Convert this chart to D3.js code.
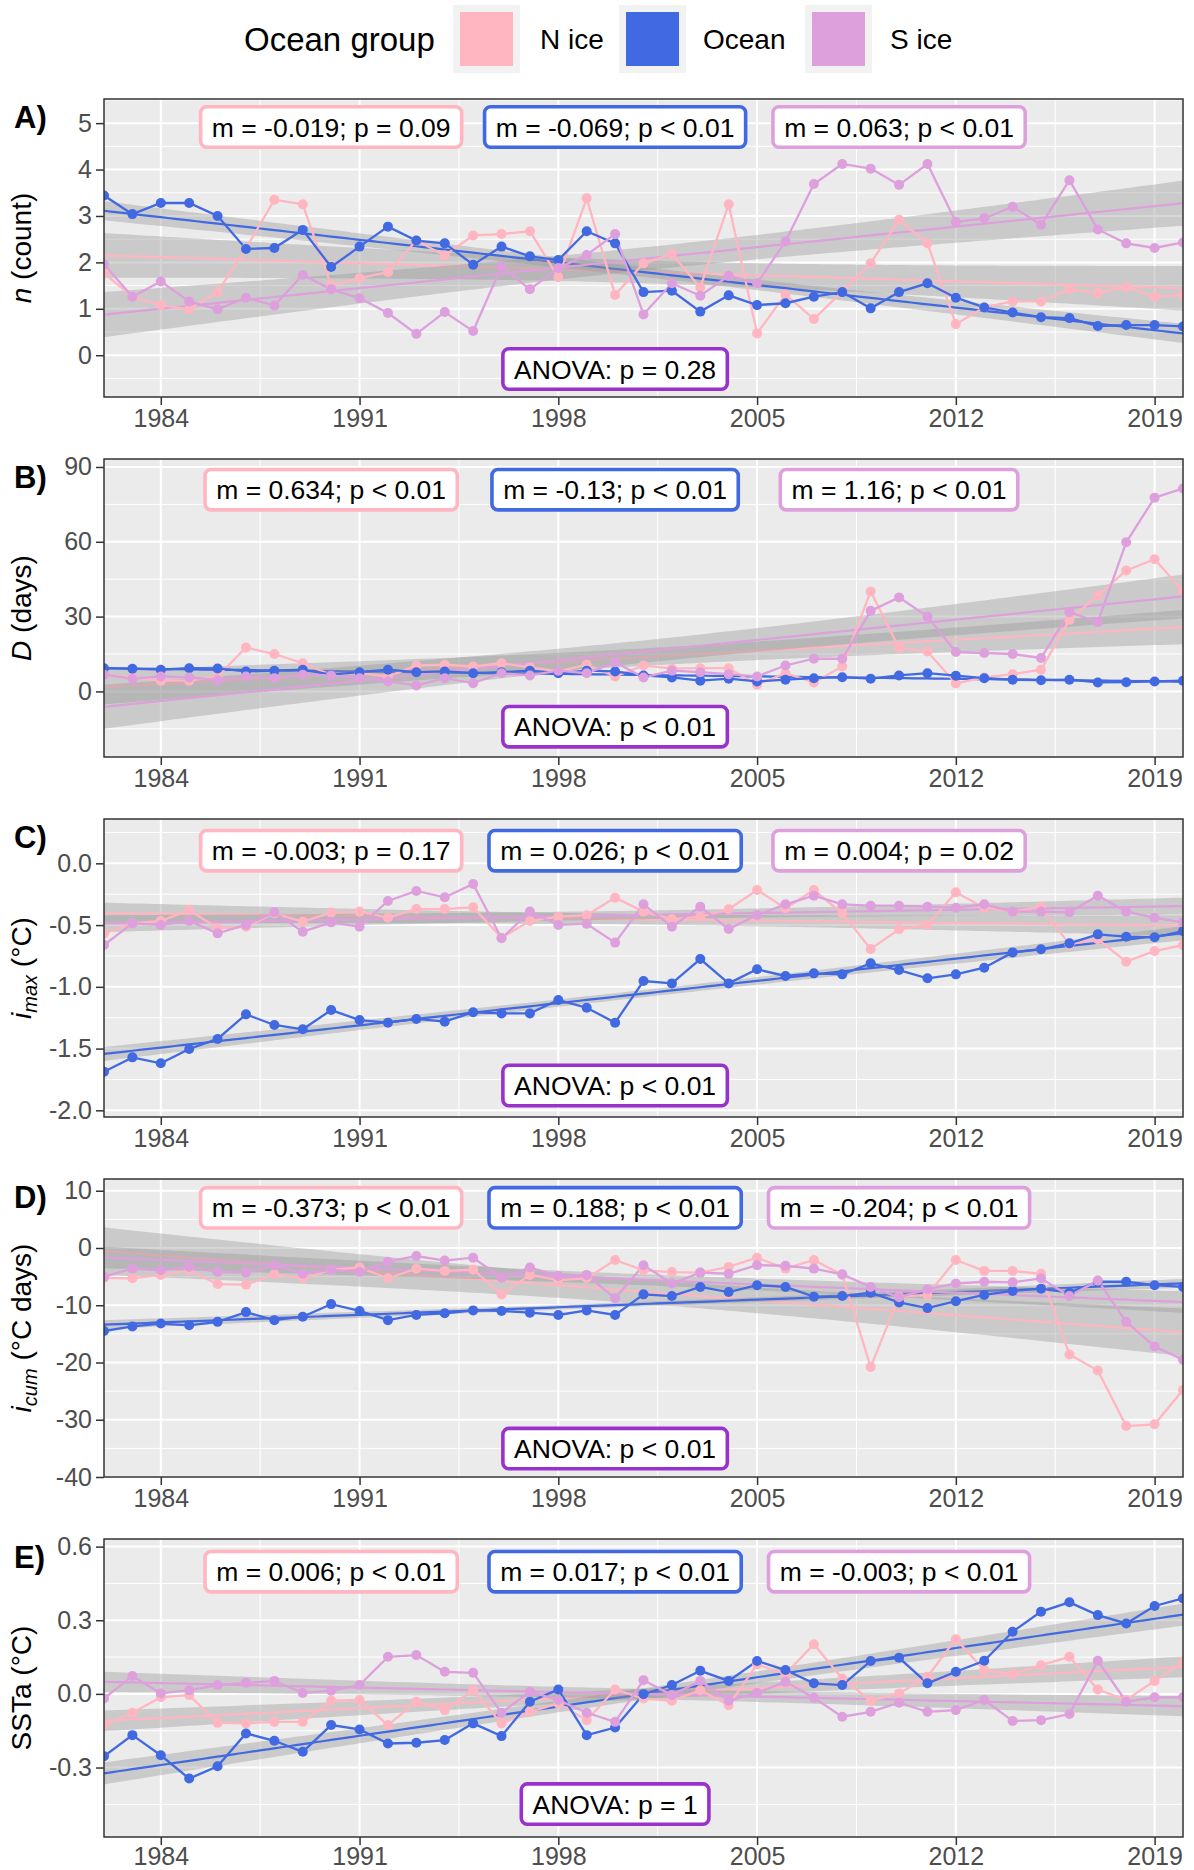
<!DOCTYPE html>
<html><head><meta charset="utf-8">
<script src="https://cdn.jsdelivr.net/npm/d3@7"></script>
<style>
body{margin:0;background:#fff}
svg{display:block}
text{font-family:"Liberation Sans",Arial,Helvetica,sans-serif}
</style>
</head><body>
<svg id="c" width="1194" height="1870"></svg>
<script>
// ---------- DATA ----------
const years = [1982,1983,1984,1985,1986,1987,1988,1989,1990,1991,1992,1993,1994,1995,1996,1997,1998,1999,2000,
  2001,2002,2003,2004,2005,2006,2007,2008,2009,2010,2011,2012,2013,2014,2015,2016,2017,2018,2019,2020];
const groups = ["N ice","Ocean","S ice"];
const groupColors = ["#FFB6C1","#4169E1","#DDA0DD"];

// A) n (count)
const nIce_A  = [1.77,1.26,1.08,0.99,1.36,2.30,3.35,3.25,1.50,1.66,1.79,2.47,2.15,2.58,2.61,2.67,1.68,3.38,1.30,1.98,2.18,1.46,3.25,0.47,1.31,0.78,1.37,1.98,2.92,2.41,0.67,1.03,1.16,1.16,1.42,1.34,1.47,1.26,1.30];
const ocean_A = [3.44,3.04,3.28,3.28,3.00,2.29,2.31,2.70,1.90,2.34,2.77,2.47,2.41,1.95,2.34,2.13,2.05,2.67,2.41,1.36,1.39,0.94,1.29,1.08,1.12,1.26,1.36,1.01,1.36,1.55,1.24,1.03,0.92,0.82,0.80,0.63,0.65,0.65,0.62];
const sIce_A  = [1.96,1.26,1.59,1.16,0.99,1.24,1.07,1.73,1.42,1.23,0.91,0.46,0.93,0.52,1.91,1.42,1.88,2.16,2.61,0.88,1.55,1.28,1.71,1.55,2.45,3.69,4.12,4.02,3.67,4.12,2.87,2.95,3.20,2.81,3.77,2.71,2.41,2.31,2.43];
// B) D (days)
const nIce_B  = [6.7,5.6,4.3,4.3,6.0,17.6,15.0,11.3,6.7,7.3,6.0,10.4,10.7,10.0,11.3,9.6,8.0,10.7,6.0,10.4,9.1,9.3,9.3,2.7,7.3,3.6,10.0,40.1,17.4,16.0,3.2,5.6,6.9,8.7,28.7,38.5,48.5,53.0,40.3];
const ocean_B = [9.3,9.1,8.7,9.3,9.2,8.0,8.3,8.7,6.7,7.7,8.7,7.7,8.0,7.3,7.7,8.3,7.3,8.3,8.0,6.4,5.6,4.3,5.1,4.0,4.7,5.3,5.7,5.1,6.4,7.3,6.3,5.3,4.7,4.5,4.7,3.6,3.7,4.0,4.3];
const sIce_B  = [6.7,5.1,6.0,5.6,4.5,6.0,5.3,6.7,6.4,5.3,4.0,2.4,5.3,3.3,7.3,6.4,8.3,7.3,11.7,5.6,8.3,7.7,6.9,6.0,10.4,13.1,13.1,32.3,37.7,30.0,15.8,15.4,15.0,13.4,31.8,27.8,59.8,77.7,81.4];
// C) i_max (°C)
const nIce_C  = [-0.567,-0.486,-0.467,-0.378,-0.526,-0.513,-0.405,-0.472,-0.399,-0.391,-0.440,-0.370,-0.370,-0.356,-0.602,-0.467,-0.432,-0.420,-0.278,-0.391,-0.451,-0.432,-0.372,-0.216,-0.364,-0.216,-0.405,-0.694,-0.534,-0.499,-0.235,-0.359,-0.391,-0.351,-0.656,-0.615,-0.796,-0.710,-0.661];
const ocean_C = [-1.687,-1.571,-1.619,-1.503,-1.422,-1.223,-1.309,-1.344,-1.188,-1.269,-1.290,-1.260,-1.282,-1.206,-1.215,-1.215,-1.107,-1.169,-1.290,-0.953,-0.972,-0.775,-0.972,-0.858,-0.912,-0.891,-0.899,-0.810,-0.864,-0.931,-0.899,-0.845,-0.721,-0.696,-0.648,-0.575,-0.594,-0.599,-0.548];
const sIce_C  = [-0.661,-0.486,-0.499,-0.467,-0.567,-0.499,-0.397,-0.553,-0.478,-0.513,-0.305,-0.224,-0.275,-0.167,-0.607,-0.391,-0.499,-0.490,-0.642,-0.332,-0.513,-0.351,-0.532,-0.418,-0.332,-0.262,-0.332,-0.343,-0.343,-0.351,-0.359,-0.332,-0.391,-0.391,-0.397,-0.262,-0.391,-0.440,-0.478];
// D) i_cum (°C days)
const nIce_D  = [-5.2,-5.3,-4.7,-3.9,-6.3,-6.4,-4.6,-5.3,-3.8,-3.4,-5.3,-3.6,-4.0,-3.8,-8.1,-4.7,-5.6,-5.3,-2.1,-3.9,-4.2,-4.3,-3.3,-1.7,-3.6,-2.1,-4.7,-20.8,-8.5,-8.2,-2.1,-4.0,-4.0,-4.5,-18.6,-21.4,-31.1,-30.8,-24.8];
const ocean_D = [-14.5,-13.7,-13.2,-13.5,-12.9,-11.2,-12.6,-12.0,-9.8,-11.0,-12.6,-11.7,-11.4,-10.9,-11.0,-11.3,-11.7,-10.9,-11.7,-8.1,-8.4,-6.8,-7.7,-6.5,-6.8,-8.5,-8.4,-7.8,-9.5,-10.5,-9.3,-8.2,-7.5,-7.1,-7.8,-5.9,-5.9,-6.5,-6.8];
const sIce_D  = [-5.0,-3.6,-3.9,-3.3,-4.2,-4.3,-3.0,-4.5,-3.8,-4.2,-2.4,-1.4,-2.2,-1.7,-5.2,-3.4,-4.9,-4.7,-8.8,-3.0,-6.2,-4.3,-4.5,-3.0,-3.1,-3.6,-4.6,-6.8,-8.6,-7.2,-6.2,-5.9,-6.0,-5.3,-8.4,-5.7,-12.9,-17.2,-19.5];
// E) SSTa (°C)
const nIce_E  = [-0.127,-0.077,-0.014,-0.005,-0.118,-0.120,-0.114,-0.114,-0.028,-0.025,-0.127,-0.032,-0.066,0.015,-0.120,-0.073,-0.039,-0.107,0.018,-0.019,-0.028,0.015,-0.046,0.120,0.081,0.202,0.063,-0.028,0.002,0.070,0.223,0.097,0.081,0.117,0.151,0.018,-0.025,0.053,0.127];
const ocean_E = [-0.254,-0.168,-0.250,-0.345,-0.295,-0.161,-0.191,-0.236,-0.127,-0.145,-0.202,-0.199,-0.188,-0.120,-0.172,-0.032,0.018,-0.168,-0.137,-0.001,0.036,0.094,0.053,0.134,0.097,0.043,0.036,0.134,0.147,0.043,0.090,0.135,0.253,0.335,0.373,0.321,0.287,0.358,0.389];
const sIce_E  = [-0.019,0.073,0.002,0.015,0.036,0.045,0.053,0.004,0.013,0.036,0.151,0.158,0.090,0.086,-0.077,0.009,-0.025,-0.077,-0.114,0.056,-0.005,0.053,-0.028,0.004,0.049,-0.016,-0.093,-0.073,-0.036,-0.073,-0.066,-0.025,-0.110,-0.107,-0.082,0.135,-0.032,-0.014,-0.014];

// ticks
const xTicks = [1984,1991,1998,2005,2012,2019];
const xMinor = [1987.5,1994.5,2001.5,2008.5,2015.5];
const yTicks_A = [0,1,2,3,4,5], yMinor_A = [-0.5,0.5,1.5,2.5,3.5,4.5,5.5];
const yTicks_B = [0,30,60,90], yMinor_B = [-15,15,45,75];
const yTicks_C = [-2,-1.5,-1,-0.5,0], yMinor_C = [-1.75,-1.25,-0.75,-0.25,0.25];
const yTicks_D = [-40,-30,-20,-10,0,10], yMinor_D = [-35,-25,-15,-5,5];
const yTicks_E = [-0.3,0,0.3,0.6], yMinor_E = [-0.45,-0.15,0.15,0.45];

// labels
const mLabels_A = ["m = -0.019; p = 0.09","m = -0.069; p < 0.01","m = 0.063; p < 0.01"];
const mLabels_B = ["m = 0.634; p < 0.01","m = -0.13; p < 0.01","m = 1.16; p < 0.01"];
const mLabels_C = ["m = -0.003; p = 0.17","m = 0.026; p < 0.01","m = 0.004; p = 0.02"];
const mLabels_D = ["m = -0.373; p < 0.01","m = 0.188; p < 0.01","m = -0.204; p < 0.01"];
const mLabels_E = ["m = 0.006; p < 0.01","m = 0.017; p < 0.01","m = -0.003; p < 0.01"];
const anovaLabels = ["ANOVA: p = 0.28","ANOVA: p < 0.01","ANOVA: p < 0.01","ANOVA: p < 0.01","ANOVA: p = 1"];
const labelYears = [1990,2000,2010];
const anovaYear = 2000;

// ---------- LAYOUT ----------
const svg = d3.select("#c");
const FONT = '"Liberation Sans",Arial,Helvetica,sans-serif';
const X0 = 104, X1 = 1183, PH = 298;
const panelTops = [99,459,819,1179,1539];
const x = d3.scaleLinear().domain([1982,2020]).range([X0,X1]);

const panels = [
  {tag:"A)", series:[nIce_A,ocean_A,sIce_A], dom:[-0.90,5.52], ticks:yTicks_A, minor:yMinor_A, fmt:d3.format("d"),
   title:[{t:"n",it:1},{t:" (count)"}], mLab:mLabels_A, mOff:28, aOff:28},
  {tag:"B)", series:[nIce_B,ocean_B,sIce_B], dom:[-26.3,93.2], ticks:yTicks_B, minor:yMinor_B, fmt:d3.format("d"),
   title:[{t:"D",it:1},{t:" (days)"}], mLab:mLabels_B, mOff:30.7, aOff:30.3},
  {tag:"C)", series:[nIce_C,ocean_C,sIce_C], dom:[-2.054,0.359], ticks:yTicks_C, minor:yMinor_C, fmt:d3.format(".1f"),
   title:[{t:"i",it:1},{t:"max",it:1,sub:1},{t:" (°C)"}], mLab:mLabels_C, mOff:31.7, aOff:31.5},
  {tag:"D)", series:[nIce_D,ocean_D,sIce_D], dom:[-40,12.05], ticks:yTicks_D, minor:yMinor_D, fmt:d3.format("d"),
   title:[{t:"i",it:1},{t:"cum",it:1,sub:1},{t:" (°C days)"}], mLab:mLabels_D, mOff:28.8, aOff:28.4},
  {tag:"E)", series:[nIce_E,ocean_E,sIce_E], dom:[-0.583,0.631], ticks:yTicks_E, minor:yMinor_E, fmt:d3.format(".1f"),
   title:[{t:"SSTa (°C)"}], mLab:mLabels_E, mOff:32.7, aOff:32.9}
];

function hyph(s){ return String(s).replace("\u2212","-"); }

function lmFit(xs, ys){
  const n = xs.length, xb = d3.mean(xs), yb = d3.mean(ys);
  let sxx=0, sxy=0;
  for(let i=0;i<n;i++){ sxx+=(xs[i]-xb)**2; sxy+=(xs[i]-xb)*(ys[i]-yb); }
  const b = sxy/sxx, a = yb - b*xb;
  let sse=0; for(let i=0;i<n;i++){ sse += (ys[i]-(a+b*xs[i]))**2; }
  const s = Math.sqrt(sse/(n-2));
  const t = 2.026;
  return xv => { const yh=a+b*xv; const se = s*Math.sqrt(1/n + (xv-xb)**2/sxx); return {yh, lo:yh-t*se, hi:yh+t*se}; };
}

// ---------- LEGEND ----------
const leg = svg.append("g");
leg.append("text").attr("x",244).attr("y",51).attr("font-size",33).attr("fill","#000").text("Ocean group");
const keyX = [453,619,805], textX = [540,703,890];
groups.forEach((g,i)=>{
  leg.append("rect").attr("x",keyX[i]).attr("y",5).attr("width",67).attr("height",68).attr("fill","#F2F2F2");
  leg.append("rect").attr("x",keyX[i]+7).attr("y",12).attr("width",53).attr("height",54).attr("fill",groupColors[i]);
  leg.append("text").attr("x",textX[i]).attr("y",49).attr("font-size",28).attr("fill","#000").text(g);
});

// ---------- PANELS ----------
const xsSmooth = d3.range(1982, 2020.001, 0.25);

panels.forEach((p,pi)=>{
  const top = panelTops[pi], bot = top + PH;
  const y = d3.scaleLinear().domain(p.dom).range([bot, top]);
  const g = svg.append("g");
  const cid = "clip"+pi;
  svg.append("clipPath").attr("id",cid).append("rect").attr("x",X0).attr("y",top).attr("width",X1-X0).attr("height",PH);

  g.append("rect").attr("x",X0).attr("y",top).attr("width",X1-X0).attr("height",PH).attr("fill","#EBEBEB");
  const grid = g.append("g").attr("clip-path",`url(#${cid})`);
  p.minor.forEach(v=>grid.append("line").attr("x1",X0).attr("x2",X1).attr("y1",y(v)).attr("y2",y(v)).attr("stroke","#fff").attr("stroke-width",1));
  xMinor.forEach(v=>grid.append("line").attr("x1",x(v)).attr("x2",x(v)).attr("y1",top).attr("y2",bot).attr("stroke","#fff").attr("stroke-width",1));
  p.ticks.forEach(v=>grid.append("line").attr("x1",X0).attr("x2",X1).attr("y1",y(v)).attr("y2",y(v)).attr("stroke","#fff").attr("stroke-width",2));
  xTicks.forEach(v=>grid.append("line").attr("x1",x(v)).attr("x2",x(v)).attr("y1",top).attr("y2",bot).attr("stroke","#fff").attr("stroke-width",2));

  const plot = g.append("g").attr("clip-path",`url(#${cid})`);
  // smooth: ribbon + fit line per group
  p.series.forEach((vals,gi)=>{
    const f = lmFit(years, vals);
    const pts = xsSmooth.map(xv=>({x:xv, ...f(xv)}));
    plot.append("path").datum(pts)
      .attr("d", d3.area().x(d=>x(d.x)).y0(d=>y(d.lo)).y1(d=>y(d.hi)))
      .attr("fill","#999999").attr("fill-opacity",0.4);
    plot.append("path").datum(pts)
      .attr("d", d3.line().x(d=>x(d.x)).y(d=>y(d.yh)))
      .attr("fill","none").attr("stroke",groupColors[gi]).attr("stroke-width",2.2);
  });
  // data lines
  p.series.forEach((vals,gi)=>{
    plot.append("path").datum(years.map((yr,i)=>[yr,vals[i]]))
      .attr("d", d3.line().x(d=>x(d[0])).y(d=>y(d[1])))
      .attr("fill","none").attr("stroke",groupColors[gi]).attr("stroke-width",2.3);
  });
  p.series.forEach((vals,gi)=>{
    plot.selectAll(null).data(years.map((yr,i)=>[yr,vals[i]])).enter().append("circle")
      .attr("cx",d=>x(d[0])).attr("cy",d=>y(d[1])).attr("r",5).attr("fill",groupColors[gi]);
  });

  // labels
  const lab = g.append("g");
  function boxLabel(cx, cy, txt, col){
    const t = lab.append("text").attr("x",cx).attr("y",cy+9.5).attr("text-anchor","middle")
      .attr("font-size",26.5).attr("fill","#000").text(txt);
    const w = t.node().getComputedTextLength();
    lab.insert("rect","text").attr("x",cx-w/2-11.2).attr("y",cy-20.2).attr("width",w+22.4).attr("height",40.4)
      .attr("rx",6).attr("fill","#fff").attr("stroke",col).attr("stroke-width",3.6);
  }
  p.mLab.forEach((txt,gi)=>boxLabel(x(labelYears[gi]), top+p.mOff, txt, groupColors[gi]));
  boxLabel(x(anovaYear), bot-p.aOff, anovaLabels[pi], "#9932CC");

  // border
  g.append("rect").attr("x",X0).attr("y",top).attr("width",X1-X0).attr("height",PH)
    .attr("fill","none").attr("stroke","#333333").attr("stroke-width",1.5);

  // axes
  const ya = g.append("g").attr("transform",`translate(${X0},0)`)
    .call(d3.axisLeft(y).tickValues(p.ticks).tickFormat(d=>hyph(p.fmt(d))).tickSize(8).tickPadding(4));
  const xa = g.append("g").attr("transform",`translate(0,${bot})`)
    .call(d3.axisBottom(x).tickValues(xTicks).tickFormat(d3.format("d")).tickSize(8).tickPadding(pi===4 ? 2 : 4.5));
  [ya,xa].forEach(a=>{
    a.select(".domain").remove();
    a.selectAll(".tick line").attr("stroke","#333333").attr("stroke-width",1.5);
    a.selectAll(".tick text").attr("fill","#4D4D4D").attr("font-size",25).attr("font-family",FONT);
  });

  // panel tag
  g.append("text").attr("x",14).attr("y",top+28.5).attr("font-size",31).attr("font-weight","bold").attr("fill","#000").text(p.tag);

  // y title
  const tt = g.append("text").attr("transform",`translate(31,${(top+bot)/2}) rotate(-90)`)
    .attr("text-anchor","middle").attr("font-size",28).attr("fill","#000");
  let shifted = false;
  p.title.forEach(part=>{
    const ts = tt.append("tspan").text(part.t);
    if(part.it) ts.attr("font-style","italic");
    if(part.sub){ ts.attr("font-size",20).attr("dy",6); shifted = true; }
    else if(shifted){ ts.attr("dy",-6); shifted = false; }
  });
});
</script>
</body></html>
